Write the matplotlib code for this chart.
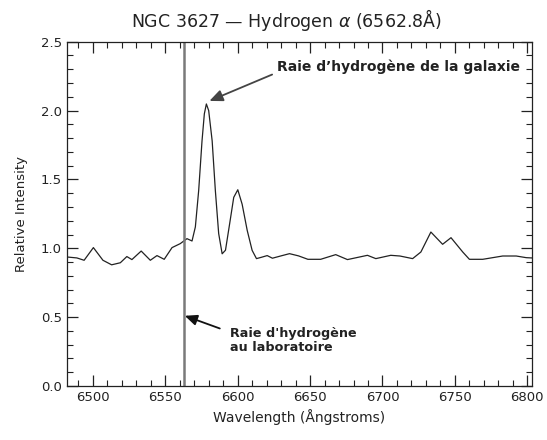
import matplotlib
matplotlib.use("Agg")
import matplotlib.pyplot as plt
from matplotlib.ticker import MultipleLocator, FormatStrFormatter

# Spectrum
wavelength = [6482, 6489, 6494, 6500.4, 6507, 6513, 6519, 6523.5, 6527, 6533.4,
              6539.7, 6544.3, 6549.3, 6554.7, 6560.4, 6565, 6568.5, 6570.8,
              6573.1, 6575.4, 6577, 6578.4, 6580, 6582.4, 6584.6, 6586.9,
              6589.3, 6591.6, 6594.5, 6597.3, 6600.1, 6603.1, 6606.6, 6610,
              6613, 6616.5, 6620.4, 6624, 6630, 6635.8,
              6642, 6648.5, 6657.3, 6667.7, 6675.8, 6689.6, 6695.4, 6705.7,
              6712, 6720.8, 6726.5, 6733.4, 6741.5, 6747.3, 6755.4, 6760,
              6769.2, 6783, 6792.3, 6799.2, 6803]
intensity = [0.937, 0.93, 0.913, 1.005, 0.913, 0.88, 0.895, 0.94, 0.918, 0.98,
             0.913, 0.947, 0.92, 1.005, 1.034, 1.07, 1.053, 1.155,
             1.42, 1.78, 1.976, 2.048, 2.0, 1.78, 1.42, 1.107,
             0.96, 0.986, 1.18, 1.37, 1.425, 1.32, 1.13, 0.985,
             0.925, 0.935, 0.947, 0.928, 0.945, 0.961,
             0.945, 0.92, 0.92, 0.954, 0.918, 0.949, 0.925, 0.949,
             0.944, 0.925, 0.973, 1.118, 1.029, 1.077, 0.973, 0.92,
             0.92, 0.944, 0.944, 0.932, 0.93]

lab_line = 6562.8
title = "NGC 3627 \u2014 Hydrogen $\\alpha$ (6562.8\u00c5)"
xlabel = "Wavelength (\u00c5ngstroms)"
ylabel = "Relative Intensity"
note_galaxy = "Raie d\u2019hydrog\u00e8ne de la galaxie"
note_lab = "Raie d'hydrog\u00e8ne\nau laboratoire"

plt.rcParams['font.family'] = ['DejaVu Sans']
fig = plt.figure(figsize=(5.47, 4.40), dpi=100)
ax = fig.add_axes([0.122, 0.1227, 0.850, 0.7825])

ax.plot(wavelength, intensity, color="#222222", lw=0.9)
ax.axvline(lab_line, color="#7a7a7a", lw=1.8)

ax.set_xlim(6482, 6803)
ax.set_ylim(0, 2.5)
ax.xaxis.set_major_locator(MultipleLocator(50))
ax.xaxis.set_minor_locator(MultipleLocator(10))
ax.yaxis.set_major_locator(MultipleLocator(0.5))
ax.yaxis.set_minor_locator(MultipleLocator(0.1))
ax.yaxis.set_major_formatter(FormatStrFormatter("%.1f"))
ax.tick_params(which="both", direction="in", top=True, right=True,
               colors="#222222", labelsize=9.5)
ax.tick_params(which="major", length=8, width=0.9)
ax.tick_params(which="minor", length=4, width=0.8)
for s in ax.spines.values():
    s.set_color("#222222")
    s.set_linewidth(0.9)

fig.text(286 / 547, 1 - 20 / 440, title, fontsize=12.5, color="#222222",
         ha="center", va="center")
ax.set_xlabel(xlabel, fontsize=10, color="#222222", labelpad=4)
ax.set_ylabel(ylabel, fontsize=9.5, color="#222222", labelpad=9)

ax.annotate(note_galaxy, xy=(6580.5, 2.07), xytext=(6627.5, 2.32),
            fontsize=10, fontweight="bold", color="#222222",
            ha="left", va="center",
            arrowprops=dict(arrowstyle="-|>,head_length=0.8,head_width=0.35",
                            color="#444444", lw=1.3, shrinkA=2, shrinkB=0,
                            relpos=(0, 0.1)))
ax.annotate(note_lab, xy=(6563.5, 0.51), xytext=(6595, 0.33),
            fontsize=9.2, fontweight="bold", color="#222222",
            ha="left", va="center", linespacing=1.15,
            arrowprops=dict(arrowstyle="-|>,head_length=0.8,head_width=0.35",
                            color="#111111", lw=1.3, shrinkA=6, shrinkB=0,
                            relpos=(0, 0.8)))

fig.savefig("out.png", dpi=100)
